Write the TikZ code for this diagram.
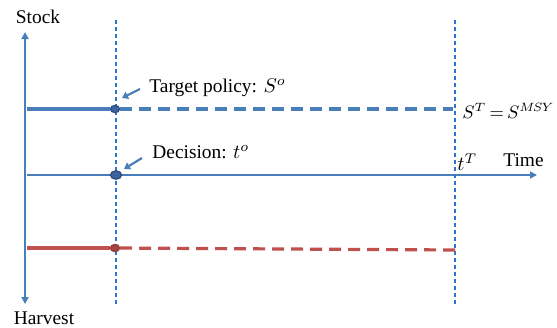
\documentclass[tikz,border=0pt]{standalone}
\usepackage{fontspec}
\setmainfont{Liberation Serif}
\usetikzlibrary{arrows.meta,shapes}
\definecolor{axisblue}{RGB}{74,126,187}
\definecolor{guideblue}{RGB}{46,117,208}
\definecolor{dotblue}{RGB}{60,100,160}
\definecolor{harvestred}{RGB}{192,80,77}

\begin{document}
\begin{tikzpicture}[x=0.5pt, y=-0.5pt, font=\fontsize{9.7}{11}\selectfont,
  axis/.style = {draw=axisblue, line width=1pt, -{Triangle[length=3.5pt,width=3.5pt]}},
  guide/.style = {draw=guideblue, line width=0.55pt, dash pattern=on 2pt off 1.5pt},
  level/.style = {line width=1.6pt},
  marker/.style = {shape=ellipse, inner sep=0pt, line width=0.6pt},
  pointer/.style = {draw=axisblue, line width=1.1pt, -{Triangle[length=3pt,width=3.8pt]}},
  label/.style = {inner sep=0pt}]
  \useasboundingbox (0,0) rectangle (557,327);
  % axes
  \coordinate (O) at (25,175);
  \coordinate (stocktop) at (25,32);
  \coordinate (harvestend) at (25,304);
  \coordinate (timeend) at (537,175);
  \draw[axis] (O) -- (stocktop);
  \draw[axis] (O) -- (harvestend);
  \draw[axis, line width=0.8pt] (27,175) -- (timeend);
  \node[label] (stock) at (38,17) {Stock};
  \node[label] (harvest) at (44,318) {Harvest};
  \node[label, anchor=west] (time) at (503,160) {Time};
  % decision and terminal times
  \draw[guide] (116,20) -- (116,306);
  \draw[guide] (455,20) -- (455,306);
  % stock path
  \node[marker, draw=dotblue!75!black, fill=dotblue, minimum width=4.6pt, minimum height=3.6pt] (target) at (115,109) {};
  \draw[level, axisblue] (27,109) -- (target);
  \draw[level, axisblue, dash pattern=on 6pt off 3.5pt] (target) -- (453,109);
  \node[label, anchor=west] (targettxt) at (149,88) {Target policy: $S^o$};
  \node[label, anchor=west, font=\fontsize{9}{10}\selectfont] (msy) at (462,111)
    {$S^T \mathrel{\mkern-2mu=\mkern-2mu} S^{M\mkern-2mu S\mkern-1mu Y}$};
  \draw[pointer] (140,89) -- (122,98);
  % time
  \node[marker, draw=dotblue!75!black, fill=dotblue, minimum width=5.6pt, minimum height=4.2pt] (decision) at (116,175) {};
  \node[label, anchor=west] (decisiontxt) at (152,152) {Decision: $t^o$};
  \node[label, anchor=west] (tT) at (457,162) {$t^T$};
  \draw[pointer] (142,158) -- (124,169);
  % harvest path
  \node[marker, draw=harvestred!75!black, fill=harvestred!85!black, minimum width=4.6pt, minimum height=3.6pt] (hdot) at (115,248) {};
  \draw[level, harvestred] (27,248) -- (hdot);
  \draw[level, harvestred, dash pattern=on 6pt off 3.5pt] (hdot) -- (456,250);
\end{tikzpicture}
\end{document}
